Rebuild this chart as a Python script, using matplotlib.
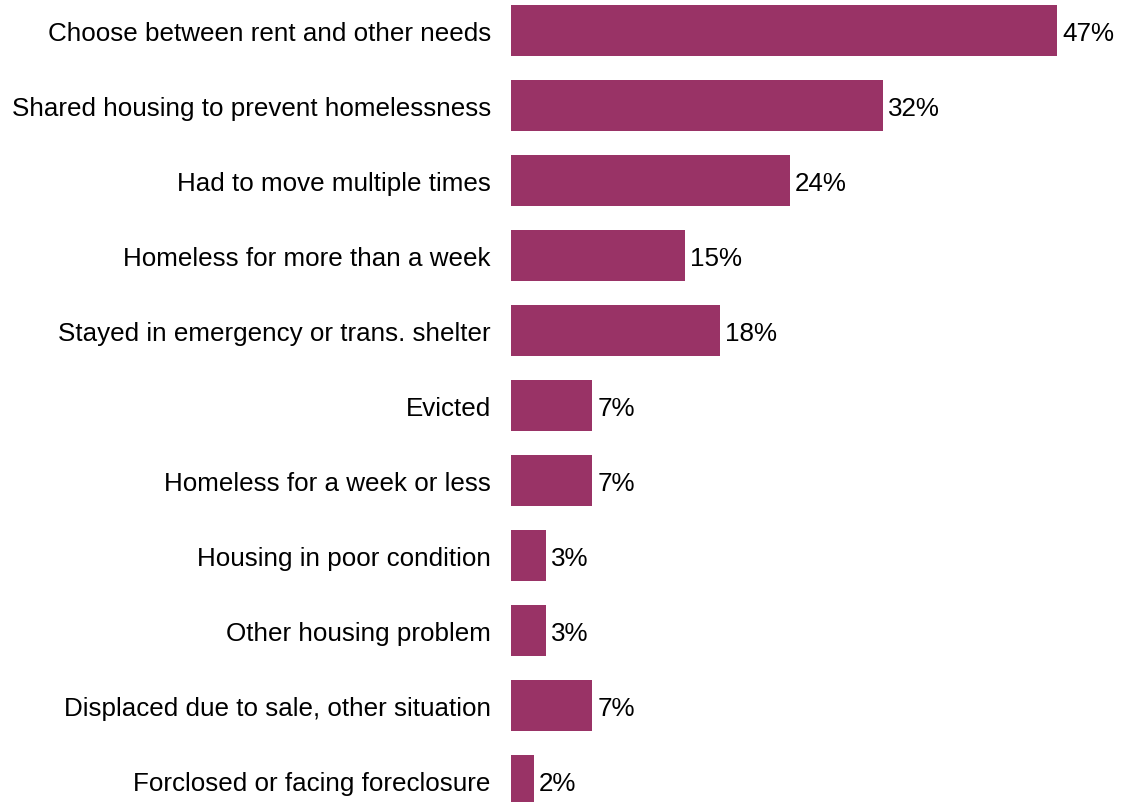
import matplotlib.pyplot as plt
import matplotlib

matplotlib.rcParams['font.family'] = ['Liberation Sans', 'DejaVu Sans']
matplotlib.rcParams['font.size'] = 18.7

categories = [
    'Choose between rent and other needs',
    'Shared housing to prevent homelessness',
    'Had to move multiple times',
    'Homeless for more than a week',
    'Stayed in emergency or trans. shelter',
    'Evicted',
    'Homeless for a week or less',
    'Housing in poor condition',
    'Other housing problem',
    'Displaced due to sale, other situation',
    'Forclosed or facing foreclosure',
]
values = [47, 32, 24, 15, 18, 7, 7, 3, 3, 7, 2]

bar_color = '#993366'

fig = plt.figure(figsize=(11.22, 8.03), dpi=100)
ax = fig.add_axes([511 / 1122, 0, 611 / 1122, 1])

pos = list(range(len(categories)))
bars = ax.barh(pos, values, height=0.68, color=bar_color)

# percentage labels just past the end of each bar
for b, v in zip(bars, values):
    ax.annotate(f'{v}%', (b.get_width(), b.get_y() + b.get_height() / 2),
                xytext=(3.5, 0), textcoords='offset points',
                ha='left', va='center_baseline')

ax.set_xlim(0, 611 / 11.62)
ax.set_ylim((803 - 31.5) / 75, -31.5 / 75)
ax.set_yticks(pos)
ax.set_yticklabels(categories)
ax.tick_params(axis='y', length=0, pad=14.5)
ax.set_xticks([])
for s in ax.spines.values():
    s.set_visible(False)

fig.savefig('out.png', dpi=100)
